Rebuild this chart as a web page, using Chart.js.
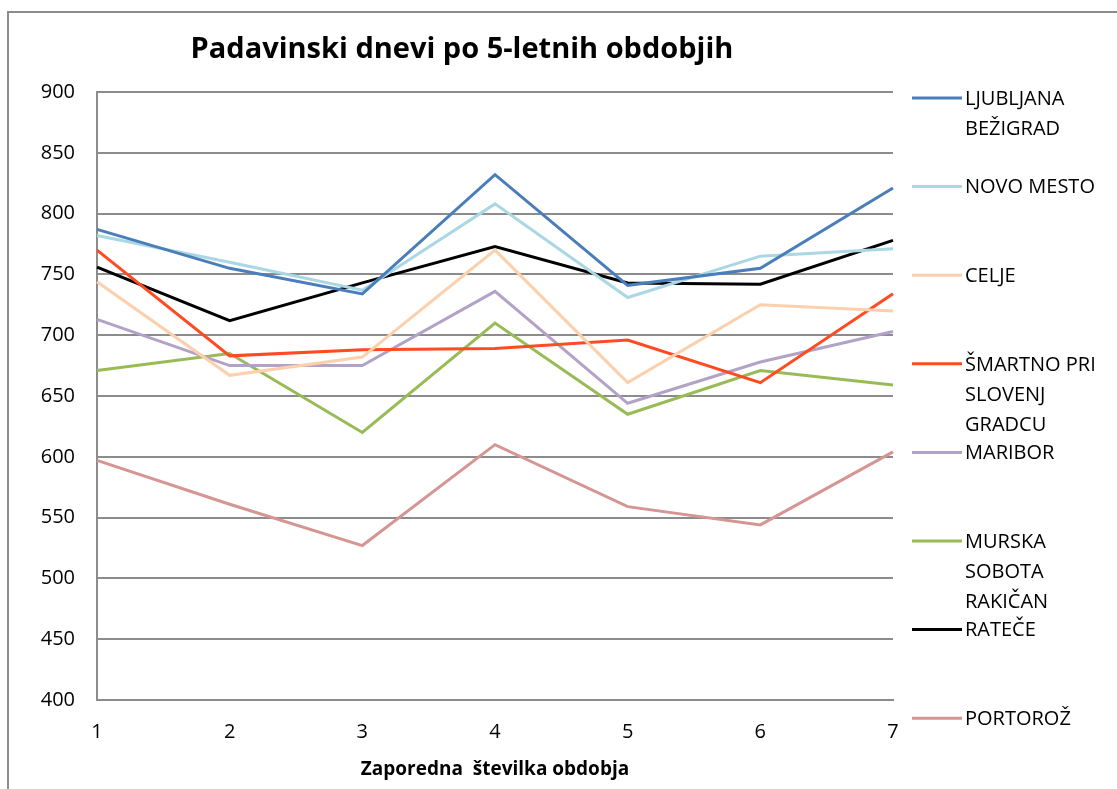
<!DOCTYPE html>
<html>
<head>
    <meta charset="utf-8">
    <title>Padavinski dnevi</title>
    <style>
        body { margin: 0; background: #fff; }
        #wrap { width: 1117px; height: 789px; position: relative; }
    </style>
</head>
<body>
    <div id="wrap"><canvas id="chart"></canvas></div>
    <script src="https://cdn.jsdelivr.net/npm/chart.js@4.4.0/dist/chart.umd.min.js"></script>
    <script>
        // Podatki
        const periods = ['1', '2', '3', '4', '5', '6', '7'];
        const chartTitle = 'Padavinski dnevi po 5-letnih obdobjih';
        const xTitle = 'Zaporedna  številka obdobja';

        const ljubljana = [787, 755, 734, 832, 741, 755, 821];
        const novoMesto = [782, 760, 737, 808, 731, 765, 771];
        const celje = [744, 667, 682, 770, 661, 725, 720];
        const smartno = [770, 683, 688, 689, 696, 661, 734];
        const maribor = [713, 675, 675, 736, 644, 678, 703];
        const murskaSobota = [671, 685, 620, 710, 635, 671, 659];
        const ratece = [756, 712, 743, 773, 743, 742, 778];
        const portoroz = [597, 561, 527, 610, 559, 544, 604];

        const stationLines = [
            ['LJUBLJANA', 'BEŽIGRAD'],
            ['NOVO MESTO'],
            ['CELJE'],
            ['ŠMARTNO PRI', 'SLOVENJ', 'GRADCU'],
            ['MARIBOR'],
            ['MURSKA', 'SOBOTA', 'RAKIČAN'],
            ['RATEČE'],
            ['PORTOROŽ']
        ];
        const seriesValues = [ljubljana, novoMesto, celje, smartno, maribor, murskaSobota, ratece, portoroz];
        const seriesColors = ['#4a7ebb', '#aad7e3', '#fcd0ac', '#ff4a22', '#b3a2c7', '#98bb55', '#000000', '#d59593'];

        const FONT = "'Open Sans', 'Liberation Sans', sans-serif";

        // okvir, naslov in legenda
        const decorPlugin = {
            id: 'decor',
            beforeDraw(chart) {
                const ctx = chart.ctx;
                ctx.save();
                ctx.strokeStyle = '#8c8c8c';
                ctx.lineWidth = 2;
                ctx.strokeRect(8, 12, 1200, 900);
                ctx.restore();
            },
            afterDraw(chart) {
                const ctx = chart.ctx;
                ctx.save();
                ctx.fillStyle = '#000';
                ctx.font = 'bold 29px ' + FONT;
                ctx.textAlign = 'center';
                ctx.textBaseline = 'middle';
                ctx.fillText(chartTitle, 462, 50);

                ctx.font = '20px ' + FONT;
                ctx.textAlign = 'left';
                chart.data.datasets.forEach((ds, i) => {
                    const y = 98 + i * 88.6;
                    ctx.strokeStyle = ds.borderColor;
                    ctx.lineWidth = 3;
                    ctx.beginPath();
                    ctx.moveTo(912, y);
                    ctx.lineTo(962, y);
                    ctx.stroke();
                    ctx.fillStyle = '#000';
                    stationLines[i].forEach((t, k) => ctx.fillText(t, 965, y + 1 + k * 30));
                });
                ctx.restore();
            }
        };

        const ctx = document.getElementById('chart').getContext('2d');
        new Chart(ctx, {
            type: 'line',
            data: {
                labels: periods,
                datasets: seriesValues.map((vals, i) => ({
                    label: stationLines[i].join(' '),
                    data: vals,
                    borderColor: seriesColors[i],
                    backgroundColor: seriesColors[i],
                    borderWidth: 3,
                    pointRadius: 0,
                    tension: 0,
                    fill: false
                }))
            },
            options: {
                responsive: true,
                maintainAspectRatio: false,
                animation: false,
                layout: { padding: { left: 0, right: 224, top: 92, bottom: 0 } },
                plugins: {
                    legend: { display: false },
                    title: { display: false },
                    tooltip: { enabled: false }
                },
                scales: {
                    x: {
                        offset: false,
                        grid: { display: false, drawTicks: false },
                        border: { display: true, color: '#8c8c8c', width: 2 },
                        ticks: { color: '#000', font: { family: FONT, size: 20 }, padding: 20, maxRotation: 0 },
                        title: {
                            display: true,
                            text: xTitle,
                            color: '#000',
                            font: { family: FONT, size: 19, weight: 'bold' },
                            padding: { top: 0, bottom: 8 }
                        },
                        afterFit: s => { s.height = 89; }
                    },
                    y: {
                        min: 400,
                        max: 900,
                        grid: { color: '#8c8c8c', lineWidth: 2, drawTicks: false },
                        border: { display: true, color: '#8c8c8c', width: 2 },
                        ticks: { stepSize: 50, color: '#000', font: { family: FONT, size: 20 }, padding: 22 },
                        afterFit: s => { s.width = 97; }
                    }
                }
            },
            plugins: [decorPlugin]
        });
    </script>
</body>
</html>
